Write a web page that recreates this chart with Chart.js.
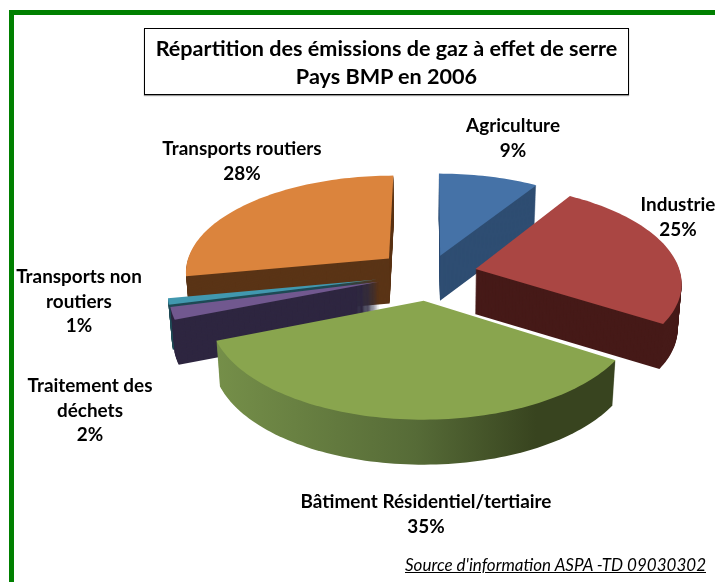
<!DOCTYPE html>
<html lang="fr">
<head>
<meta charset="utf-8">
<title>Répartition des émissions de gaz à effet de serre</title>
<script src="https://cdn.jsdelivr.net/npm/chart.js@4/dist/chart.umd.min.js"></script>
<style>
  html, body { margin: 0; padding: 0; background: #fff; }
  #page { position: relative; width: 715px; height: 582px; overflow: hidden; font-family: Lato, sans-serif; color: #000; }
  #page canvas { position: absolute; left: 0; top: 0; }
  #bordTop { position: absolute; left: 9px; top: 10px; right: 0; height: 5px; background: #008000; }
  #bordLeft { position: absolute; left: 9px; top: 10px; bottom: 0; width: 5px; background: #008000; }
  #titre { position: absolute; left: 144px; top: 28px; width: 483px; height: 60px; border: 1px solid #000; box-shadow: 0 1px 1px #999;
           text-align: center; font-weight: 700; font-size: 21.6px; line-height: 28px; padding-top: 5px; background: #fff; }
  #source { position: absolute; right: 9px; top: 554px; font-style: italic; font-size: 17px; text-decoration: underline; white-space: nowrap; }
</style>
</head>
<body>
<div id="page">
  <canvas id="chartGes" width="715" height="582"></canvas>
  <div id="bordTop"></div>
  <div id="bordLeft"></div>
  <div id="titre">Répartition des émissions de gaz à effet de serre<br>Pays BMP en 2006</div>
  <div id="source">Source d'information ASPA -TD 09030302</div>
</div>
<script>
const categories = ['Agriculture', 'Industrie', 'Bâtiment Résidentiel/tertiaire', 'Traitement des déchets', 'Transports non routiers', 'Transports routiers'];
const valeurs = [9, 25, 35, 2, 1, 28];
const couleurs = ['#4572A7', '#AA4643', '#89A54E', '#71588F', '#4198AF', '#DB843D'];
const couleursCote = ['#2E4D72', '#461A18', ['#758F49', '#566B37', '#38441F'], '#2E2640', '#1F4A55', '#5A3416'];
const eclatement = [41, 48, 55, 52, 53, 53];

// coupures de ligne et position de chaque etiquette (x centre, y premiere ligne)
const etiquettes = [
  { lignes: ['Agriculture'], x: 513, y: 126 },
  { lignes: ['Industrie'], x: 678, y: 205 },
  { lignes: ['Bâtiment Résidentiel/tertiaire'], x: 426, y: 502 },
  { lignes: ['Traitement des', 'déchets'], x: 90, y: 386 },
  { lignes: ['Transports non', 'routiers'], x: 79, y: 277 },
  { lignes: ['Transports routiers'], x: 242, y: 149 }
];

// reglages de la vue 3D
const PERSP = 8;
const INCLINE = 0.472;
const EPAISSEUR = 45;
const FUITE = 0.00035;

function contour(arc) {
  const R = arc.outerRadius;
  const d = PERSP * R;
  const mid = (arc.startAngle + arc.endAngle) / 2;
  const off = arc.options.offset;
  const ox = Math.cos(mid) * off;
  const oy = Math.sin(mid) * off;
  const proj = (X, Y) => {
    const s = d / (d - Y);
    return [X * s, Y * INCLINE * s];
  };
  const pts = [proj(ox, oy)];
  const n = Math.max(6, Math.ceil((arc.endAngle - arc.startAngle) * 40));
  for (let i = 0; i <= n; i++) {
    const a = arc.startAngle + (arc.endAngle - arc.startAngle) * i / n;
    pts.push(proj(ox + Math.cos(a) * R, oy + Math.sin(a) * R));
  }
  return pts;
}

function trace(ctx, arc, pts, z) {
  // les verticales convergent un peu vers le bas
  const k = 1 - z * FUITE;
  ctx.beginPath();
  pts.forEach((p, i) => {
    const x = arc.x + p[0] * k;
    const y = arc.y + p[1] + z;
    i ? ctx.lineTo(x, y) : ctx.moveTo(x, y);
  });
  ctx.closePath();
}

const pie3d = {
  id: 'pie3d',
  beforeDatasetDraw(chart, args) {
    const ctx = chart.ctx;
    const arcs = args.meta.data.map((arc, i) => ({ arc, i }));
    // de l'arriere vers l'avant
    arcs.sort((a, b) =>
      Math.sin((a.arc.startAngle + a.arc.endAngle) / 2) - Math.sin((b.arc.startAngle + b.arc.endAngle) / 2));
    arcs.forEach(({ arc, i }) => {
      const pts = contour(arc);
      let cote = couleursCote[i];
      if (Array.isArray(cote)) {
        const xs = pts.map(p => arc.x + p[0]);
        const g = ctx.createLinearGradient(Math.min(...xs), 0, Math.max(...xs), 0);
        g.addColorStop(0, cote[0]);
        g.addColorStop(0.5, cote[1]);
        g.addColorStop(0.8, cote[2]);
        g.addColorStop(1, cote[2]);
        cote = g;
      }
      ctx.fillStyle = cote;
      for (let z = EPAISSEUR; z > 0; z--) {
        trace(ctx, arc, pts, z);
        ctx.fill();
      }
      ctx.fillStyle = arc.options.backgroundColor;
      trace(ctx, arc, pts, 0);
      ctx.fill();
    });
    return false;
  },
  afterDraw(chart) {
    const ctx = chart.ctx;
    ctx.save();
    ctx.fillStyle = '#000';
    ctx.font = '700 18.9px Lato, sans-serif';
    ctx.textAlign = 'center';
    ctx.textBaseline = 'middle';
    etiquettes.forEach((e, i) => {
      const lignes = [...e.lignes, valeurs[i] + '%'];
      lignes.forEach((l, k) => ctx.fillText(l, e.x, e.y + k * 24.5));
    });
    ctx.restore();
  }
};

new Chart(document.getElementById('chartGes').getContext('2d'), {
  type: 'pie',
  data: {
    labels: categories,
    datasets: [{
      data: valeurs,
      backgroundColor: couleurs,
      offset: eclatement,
      borderWidth: 0,
      radius: 205
    }]
  },
  options: {
    responsive: false,
    animation: false,
    layout: { padding: { left: 143, bottom: 34 } },
    plugins: { legend: { display: false }, tooltip: { enabled: false } }
  },
  plugins: [pie3d]
});
</script>
</body>
</html>
